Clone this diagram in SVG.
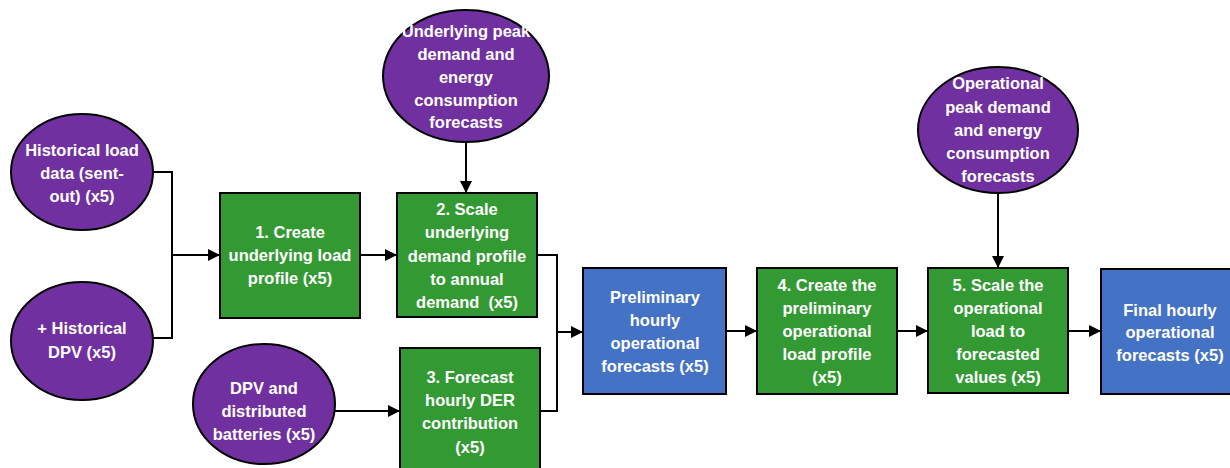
<svg xmlns="http://www.w3.org/2000/svg" width="1230" height="468" viewBox="0 0 1230 468">
<style>
.e{fill:#7030A0;stroke:#000;stroke-width:2}
.g{fill:#339933;stroke:#000;stroke-width:2}
.b{fill:#4472C4;stroke:#000;stroke-width:2}
text{font-family:"Liberation Sans",Arial,sans-serif;font-weight:bold;font-size:16.5px;fill:#fff;text-anchor:middle;dominant-baseline:central}
.pre{white-space:pre}
.c{fill:none;stroke:#000;stroke-width:2}
</style>
<defs>
<marker id="ah" markerUnits="userSpaceOnUse" markerWidth="12" markerHeight="12" refX="11" refY="6" orient="auto">
<path d="M0,0 L12,6 L0,12 Z" fill="#000"/>
</marker>
</defs>
<rect width="1230" height="468" fill="#fff"/>
<g id="connectors">
<path class="c" d="M153,172 H172 V338 H153"/>
<path class="c" d="M172,255 H219" marker-end="url(#ah)"/>
<path class="c" d="M360,255 H396" marker-end="url(#ah)"/>
<path class="c" d="M466,142 V192" marker-end="url(#ah)"/>
<path class="c" d="M335,411 H399" marker-end="url(#ah)"/>
<path class="c" d="M537,255 H557 V411 H540"/>
<path class="c" d="M557,332 H582" marker-end="url(#ah)"/>
<path class="c" d="M726,331 H756" marker-end="url(#ah)"/>
<path class="c" d="M897,331 H927" marker-end="url(#ah)"/>
<path class="c" d="M998,193 V267" marker-end="url(#ah)"/>
<path class="c" d="M1068,331 H1100" marker-end="url(#ah)"/>
</g>
<g id="hist-load">
<ellipse class="e" cx="82" cy="172" rx="71" ry="58"/>
<text x="82" y="150">Historical load</text>
<text x="82" y="173">data (sent-</text>
<text x="82" y="196">out) (x5)</text>
</g>
<g id="hist-dpv">
<ellipse class="e" cx="82" cy="341" rx="71" ry="59"/>
<text x="82" y="328">+ Historical</text>
<text x="82" y="352">DPV (x5)</text>
</g>
<g id="step1">
<rect class="g" x="220" y="193" width="140" height="125"/>
<text x="290" y="232">1. Create</text>
<text x="290" y="255">underlying load</text>
<text x="290" y="278">profile (x5)</text>
</g>
<g id="underlying-forecasts">
<ellipse class="e" cx="466" cy="76" rx="83" ry="66"/>
<text x="466" y="31">Underlying peak</text>
<text x="466" y="54">demand and</text>
<text x="466" y="77">energy</text>
<text x="466" y="100">consumption</text>
<text x="466" y="122">forecasts</text>
</g>
<g id="step2">
<rect class="g" x="397" y="193" width="140" height="124"/>
<text x="467" y="209">2. Scale</text>
<text x="467" y="232">underlying</text>
<text x="467" y="256">demand profile</text>
<text x="467" y="279">to annual</text>
<text x="467" y="302" class="pre">demand  (x5)</text>
</g>
<g id="dpv-batteries">
<ellipse class="e" cx="264" cy="404" rx="71" ry="60"/>
<text x="264" y="388">DPV and</text>
<text x="264" y="411">distributed</text>
<text x="264" y="434">batteries (x5)</text>
</g>
<g id="step3">
<rect class="g" x="400" y="348" width="140" height="126"/>
<text x="470" y="377">3. Forecast</text>
<text x="470" y="400">hourly DER</text>
<text x="470" y="423">contribution</text>
<text x="470" y="447">(x5)</text>
</g>
<g id="prelim">
<rect class="b" x="583" y="268" width="143" height="126"/>
<text x="655" y="297">Preliminary</text>
<text x="655" y="320">hourly</text>
<text x="655" y="343">operational</text>
<text x="655" y="366">forecasts (x5)</text>
</g>
<g id="step4">
<rect class="g" x="757" y="268" width="140" height="126"/>
<text x="827" y="285">4. Create the</text>
<text x="827" y="308">preliminary</text>
<text x="827" y="331">operational</text>
<text x="827" y="354">load profile</text>
<text x="827" y="377">(x5)</text>
</g>
<g id="operational-forecasts">
<ellipse class="e" cx="998" cy="130" rx="80" ry="63"/>
<text x="998" y="83">Operational</text>
<text x="998" y="107">peak demand</text>
<text x="998" y="130">and energy</text>
<text x="998" y="153">consumption</text>
<text x="998" y="176">forecasts</text>
</g>
<g id="step5">
<rect class="g" x="928" y="268" width="140" height="125"/>
<text x="998" y="285">5. Scale the</text>
<text x="998" y="308">operational</text>
<text x="998" y="331">load to</text>
<text x="998" y="354">forecasted</text>
<text x="998" y="377">values (x5)</text>
</g>
<g id="final">
<rect class="b" x="1101" y="269" width="140" height="125"/>
<text x="1170" y="310">Final hourly</text>
<text x="1170" y="332">operational</text>
<text x="1170" y="355">forecasts (x5)</text>
</g>
</svg>
